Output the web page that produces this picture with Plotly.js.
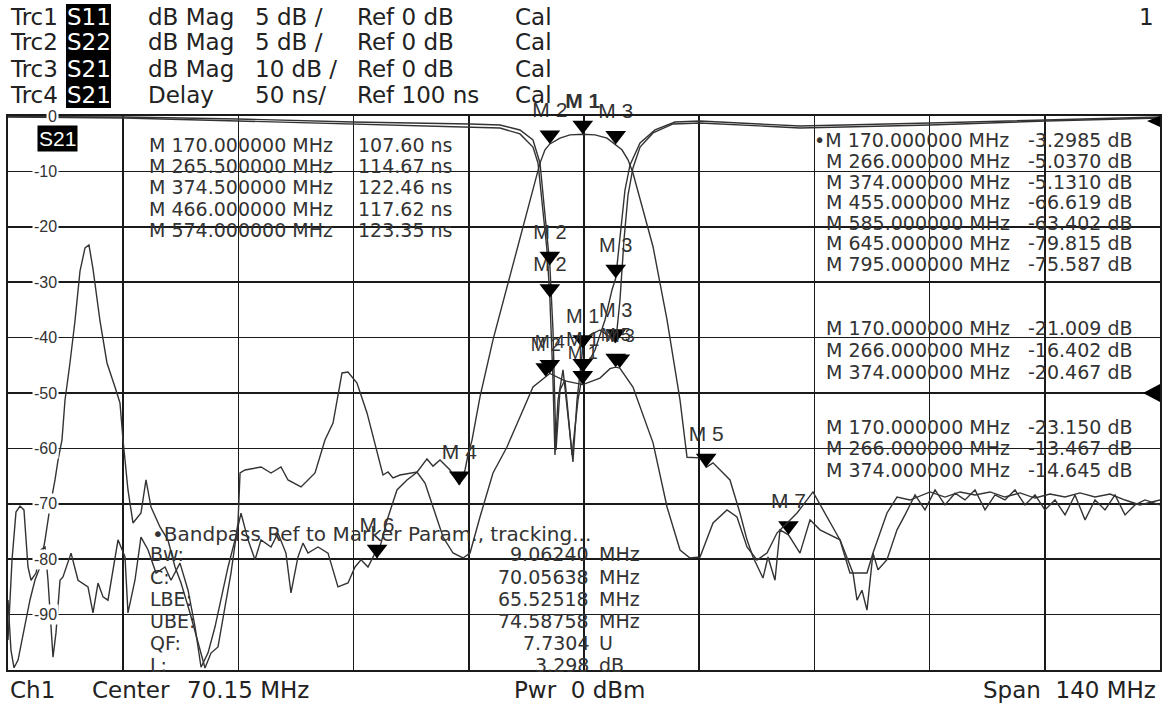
<!DOCTYPE html>
<html>
<head>
<meta charset="utf-8">
<script src="https://cdn.plot.ly/plotly-3.0.1.min.js"></script>
<style>html,body{margin:0;padding:0;background:#fff;}#chart{width:1165px;height:709px;}</style>
</head>
<body>
<div id="chart"></div>
<script>
// ---------------- DATA ----------------
// Trc3: S21 dB Mag (10 dB/div, ref 0 dB)
const freqS21 = [
  0.15,0.64,1.12,1.61,2.09,2.58,2.95,3.55,4.16,4.65,
  5.01,5.62,5.98,6.47,6.83,7.81,8.66,9.87,10.48,11.09,
  11.70,12.30,13.52,14.37,14.73,15.58,16.31,17.16,18.14,19.23,
  19.96,21.05,22.03,22.88,23.61,24.46,25.31,26.04,26.89,27.74,
  28.47,29.32,30.17,30.90,32.11,32.96,33.93,34.54,35.39,36.00,
  36.61,37.82,39.04,40.25,41.47,42.32,43.05,43.90,44.75,45.00,
  46.21,47.42,48.64,49.85,51.07,51.80,52.65,53.87,55.00,55.69,
  56.05,56.54,57.51,59.09,59.94,62.37,64.44,64.80,65.41,66.00,
  67.23,68.45,70.00,71.49,72.95,74.00,74.76,75.50,76.10,78.54,
  80.24,81.82,82.67,84.25,85.00,85.83,87.89,89.11,89.96,90.69,
  91.90,92.51,93.36,93.97,95.00,96.40,97.62,98.83,101.26,102.84,
  103.33,103.93,104.54,105.27,105.88,106.97,108.19,109.16,110.38,111.59,
  112.81,114.02,115.24,116.45,117.67,118.88,120.10,121.31,122.53,123.74,
  124.96,126.17,127.39,128.61,129.82,131.04,132.25,133.47,134.68,135.90,
  137.11,138.33,140.15];
const magS21 = [
  -94.6,-80.1,-71.5,-70.4,-71.1,-81.4,-83.8,-82.5,-78.3,-77.8,
  -83.8,-97.7,-93.3,-83.8,-83.2,-78.9,-83.8,-85.0,-89.7,-84.3,
  -86.8,-87.4,-76.5,-79.6,-89.7,-83.8,-76.0,-78.3,-82.5,-81.4,
  -83.8,-80.7,-85.6,-92.2,-99.5,-96.9,-92.2,-87.4,-81.4,-76.5,
  -71.7,-76.5,-80.1,-76.5,-77.8,-75.3,-78.9,-86.1,-79.6,-77.1,
  -78.9,-77.8,-78.9,-85.0,-84.3,-81.4,-80.1,-81.4,-78.9,-79.8,
  -73.0,-67.5,-65.7,-64.3,-61.9,-63.2,-62.1,-63.9,-66.6,-63.9,
  -61.2,-58.5,-50.7,-40.4,-35.6,-21.8,-10.3,-8.5,-6.1,-5.04,
  -4.0,-3.4,-3.3,-3.4,-4.0,-5.13,-6.1,-7.9,-10.3,-23.6,
  -36.8,-51.3,-61.6,-61.7,-63.4,-62.6,-65.7,-71.7,-76.5,-79.6,
  -83.4,-79.6,-83.8,-74.7,-75.6,-78.9,-72.9,-74.7,-76.5,-82.5,
  -87.4,-85.6,-89.2,-78.9,-81.9,-80.1,-74.7,-72.0,-68.4,-71.1,
  -67.5,-70.2,-68.1,-69.3,-67.5,-71.1,-68.4,-69.3,-67.5,-70.2,
  -68.4,-71.1,-69.3,-72.0,-68.4,-72.9,-69.3,-71.1,-68.4,-72.0,
  -70.2,-69.3,-70.2];

// Trc4: S21 Delay (50 ns/div, ref 100 ns at centre)
const freqDelay = [
  0.15,0.51,0.88,1.37,2.09,2.82,3.43,4.04,4.65,5.25,
  5.86,6.23,6.71,7.08,7.68,8.29,8.90,9.51,9.99,10.48,
  11.33,12.18,13.15,13.76,14.13,14.73,15.34,16.31,16.92,17.53,
  18.62,19.59,20.45,21.18,22.27,23.24,24.09,24.82,25.67,26.52,
  27.25,28.10,28.35,28.95,30.90,32.11,33.33,34.18,35.76,37.46,
  38.19,38.67,39.65,40.74,41.47,42.56,43.78,44.99,45.72,46.33,
  46.94,47.79,49.00,49.85,50.83,51.80,53.02,54.23,55.45,56.30,
  57.51,59.09,60.79,62.37,63.95,65.50,66.00,67.84,70.00,72.09,
  73.31,74.00,74.50,76.10,76.96,78.54,80.24,81.82,83.03,84.25,
  85.83,87.53,88.74,89.96,91.17,92.39,93.60,96.04,97.98,99.68,
  101.26,102.47,104.54,105.27,106.97,108.19,109.77,112.20,114.02,115.85,
  117.67,119.49,121.31,123.14,124.96,126.78,128.61,130.43,132.25,134.08,
  135.90,137.72,140.15];
const delayNs = [
  -86.8,-132,-148,-141,-114,-86.8,-68.8,-57.0,-32.7,-2.9,
  21.5,39.5,57.6,93.7,127.1,165.0,210.0,231.0,233.6,212.0,
  165.0,127.1,105.4,91.0,57.6,12.5,-17.3,-8.3,21.5,-2.9,
  -20.9,-32.7,-57.0,-71.5,-98.6,-125.6,-148.2,-134.7,-129.2,-93.1,
  -62.5,-17.3,27.8,30.5,33.2,27.8,33.2,21.5,15.2,27.8,
  45.8,57.6,72.9,118.1,118.9,109.0,82.0,48.6,26.0,28.7,
  23.3,26.0,27.8,28.7,18.8,-2.9,-30.0,-44.4,-48.9,-44.4,
  -11.9,27.8,51.3,78.3,105.4,114.67,117.62,111.0,107.6,113.5,
  122.0,123.35,122.46,105.4,87.4,55.0,-2.9,-41.7,-48.9,-48.0,
  -17.3,-5.6,-11.9,-39.0,-50.7,-44.4,-26.4,-8.3,10.7,-11.9,
  -32.7,-62.5,-62.5,-44.4,-8.3,6.1,3.4,10.7,6.1,10.7,
  7.9,10.7,6.1,9.8,5.2,8.8,6.1,9.8,6.1,8.8,
  3.4,-1.1,3.4];

// Trc1: S11 dB Mag (5 dB/div, ref 0 dB)
const freqS11 = [0.15,14.25,28.10,42.08,56.30,59.94,62.37,63.95,64.56,65.17,65.65,66.0,66.38,66.62,66.99,67.60,68.21,68.81,69.30,70.0,70.88,72.09,73.31,74.0,74.52,75.01,75.50,76.10,76.96,78.54,80.97,84.25,96.40,112.20,126.30,140.15];
const magS11 = [-0.09,-0.18,-0.45,-0.72,-0.99,-1.08,-1.62,-2.80,-4.24,-8.48,-12.09,-16.402,-23.83,-30.60,-25.63,-22.92,-27.44,-31.23,-25.63,-21.009,-19.77,-19.31,-19.95,-20.467,-16.61,-11.19,-7.13,-4.69,-2.80,-1.53,-0.72,-0.63,-1.08,-0.81,-0.45,-0.18];

// Trc2: S22 dB Mag (5 dB/div, ref 0 dB)
const freqS22 = [0.15,14.25,28.10,42.08,56.30,59.94,62.37,63.95,64.80,65.41,66.0,66.38,66.75,67.23,67.84,68.69,69.42,70.0,71.49,72.70,73.55,74.0,74.52,75.13,75.74,76.96,78.78,81.21,84.25,96.40,112.20,126.30,140.15];
const magS22 = [-0.05,-0.09,-0.27,-0.54,-0.72,-0.81,-1.26,-2.17,-4.24,-8.94,-13.467,-19.31,-30.14,-24.73,-23.83,-30.60,-25.63,-23.15,-21.12,-18.41,-15.70,-14.645,-10.74,-6.68,-4.42,-2.44,-1.26,-0.54,-0.45,-0.90,-0.63,-0.36,-0.09];

// Markers
const mkS21Freq = [70, 66, 74, 55, 85, 45, 95];
const mkS21Val  = [-3.2985, -5.0370, -5.1310, -66.619, -63.402, -79.815, -75.587];
const mkS11Freq = [70, 66, 74];
const mkS11Val  = [-21.009, -16.402, -20.467];
const mkS22Freq = [70, 66, 74];
const mkS22Val  = [-23.150, -13.467, -14.645];
const mkDelFreq = [70, 65.5, 74.5, 66, 74];
const mkDelVal  = [107.60, 114.67, 122.46, 117.62, 123.35];

// Bandpass readout
const bpLabels = ['Bw:', 'C:', 'LBE:', 'UBE:', 'QF:', 'L:'];
const bpValues = ['9.06240', '70.05638', '65.52518', '74.58758', '7.7304', '3.298'];
const bpUnits  = ['MHz', 'MHz', 'MHz', 'MHz', 'U', 'dB'];

// Axis settings
const startMHz = 0.15, stopMHz = 140.15, divMHz = 14;
const yTickVals = [0, -10, -20, -30, -40, -50, -60, -70, -80, -90];

// Header
const hdrTrc   = ['Trc1', 'Trc2', 'Trc3', 'Trc4'];
const hdrParam = ['S11', 'S22', 'S21', 'S21'];
const hdrFmt   = ['dB Mag', 'dB Mag', 'dB Mag', 'Delay'];
const hdrScale = ['5 dB /', '5 dB /', '10 dB /', '50 ns/'];
const hdrRef   = ['Ref 0 dB', 'Ref 0 dB', 'Ref 0 dB', 'Ref 100 ns'];

// ---------------- LAYOUT HELPERS ----------------
const L = 8, R = 1160, T = 116, B = 670, PH = B - T;
const px = x => (x - L) / (R - L);
const py = y => (B - y) / (B - T);
const FH = 'Liberation Sans, Arial, sans-serif';
const FT = 'DejaVu Sans, Verdana, sans-serif';
function txt(x, y, text, o) {
  return Object.assign({xref: 'paper', yref: 'paper', x: px(x), y: py(y), text: text,
    showarrow: false, xanchor: 'left', yanchor: 'middle',
    font: {family: FT, size: 23, color: '#222'}}, o || {});
}
const tf = (size, color) => ({family: FT, size: size, color: color || '#333'});

const lineStyle = {color: '#333', width: 1.4};
const traces = [
  {x: freqS11, y: magS11, yaxis: 'y2', mode: 'lines', line: lineStyle, hoverinfo: 'skip'},
  {x: freqS22, y: magS22, yaxis: 'y2', mode: 'lines', line: lineStyle, hoverinfo: 'skip'},
  {x: freqDelay, y: delayNs, yaxis: 'y3', mode: 'lines', line: lineStyle, hoverinfo: 'skip'},
  {x: freqS21, y: magS21, yaxis: 'y', mode: 'lines', line: lineStyle, hoverinfo: 'skip'}
];
const MR = 9; // triangle radius in px (apex sits on the value)
function mk(freqs, vals, yaxis, span, labels, tsize) {
  return {x: freqs, y: vals.map(v => v + MR * span / PH), yaxis: yaxis,
    mode: 'markers+text', text: labels, textposition: 'top center',
    textfont: {family: FH, size: tsize || 20, color: '#333'},
    marker: {symbol: 'triangle-down', size: 18, color: '#000', line: {width: 0}},
    cliponaxis: false, hoverinfo: 'skip'};
}
const lab = n => Array.from({length: n}, (_, i) => 'M ' + (i + 1));
const s21Labels = lab(mkS21Freq.length); s21Labels[0] = '<b>M 1</b>';
traces.push(mk(mkS11Freq, mkS11Val, 'y2', 50, lab(3)));
traces.push(mk(mkS22Freq, mkS22Val, 'y2', 50, lab(3)));
traces.push(mk(mkDelFreq, mkDelVal, 'y3', 500, lab(5), 18));
traces.push(mk(mkS21Freq, mkS21Val, 'y', 100, s21Labels, 21));

// ---------------- ANNOTATIONS ----------------
const ann = [];
const hdrY = [17, 42, 69, 95];
hdrTrc.forEach((t, i) => {
  ann.push(txt(8, hdrY[i], t));
  ann.push(txt(89, hdrY[i], hdrParam[i], {xanchor: 'center', font: {family: FT, size: 23, color: '#fff'}}));
  ann.push(txt(146, hdrY[i], hdrFmt[i]));
  ann.push(txt(253, hdrY[i], hdrScale[i]));
  ann.push(txt(355, hdrY[i], hdrRef[i]));
  ann.push(txt(513, hdrY[i], 'Cal'));
});
ann.push(txt(1156, 17, '1', {xanchor: 'right'}));

// y tick labels drawn inside the grid, as on the analyser screen
yTickVals.forEach(v => ann.push({xref: 'paper', yref: 'y', x: px(59), y: v, text: String(v),
  showarrow: false, xanchor: 'right', yanchor: 'middle', bgcolor: '#fff', borderpad: 1,
  font: {family: FH, size: 16, color: '#333'}}));

// active trace tag
ann.push(txt(57, 138, 'S21', {xanchor: 'center', bgcolor: '#000', borderpad: 1,
  font: {family: FH, size: 21, color: '#fff'}}));

// Delay marker table (left)
const fmtF = (f, i) => 'M ' + (i + 1) + f.toFixed(6) + ' MHz';
const leftRows = [145, 166, 187, 209, 230];
mkDelFreq.forEach((f, i) => {
  ann.push(txt(147, leftRows[i], fmtF(f, i), {font: tf(19)}));
  ann.push(txt(356, leftRows[i], mkDelVal[i].toPrecision(5) + ' ns', {font: tf(19)}));
});
// S21 marker table (right)
const rightS21Rows = [140, 161, 182, 202, 223, 243, 264];
mkS21Freq.forEach((f, i) => {
  ann.push(txt(i === 0 ? 812 : 824, rightS21Rows[i], (i === 0 ? '•' : '') + fmtF(f, i), {font: tf(19)}));
  ann.push(txt(1026, rightS21Rows[i], mkS21Val[i].toPrecision(5) + ' dB', {font: tf(19)}));
});
const rightS11Rows = [328, 350, 372];
mkS11Freq.forEach((f, i) => {
  ann.push(txt(824, rightS11Rows[i], fmtF(f, i), {font: tf(19)}));
  ann.push(txt(1026, rightS11Rows[i], mkS11Val[i].toPrecision(5) + ' dB', {font: tf(19)}));
});
const rightS22Rows = [427, 448, 470];
mkS22Freq.forEach((f, i) => {
  ann.push(txt(824, rightS22Rows[i], fmtF(f, i), {font: tf(19)}));
  ann.push(txt(1026, rightS22Rows[i], mkS22Val[i].toPrecision(5) + ' dB', {font: tf(19)}));
});

// Bandpass readout (bottom left)
ann.push(txt(150, 534, '•Bandpass Ref to Marker Param., tracking...', {font: tf(20)}));
const bpRows = [554, 577, 599, 621, 643, 665];
bpLabels.forEach((l, i) => {
  ann.push(txt(148, bpRows[i], l, {font: tf(19)}));
  ann.push(txt(591, bpRows[i], bpValues[i], {xanchor: 'right', font: tf(19)}));
  ann.push(txt(597, bpRows[i], bpUnits[i], {font: tf(19)}));
});

// Channel bar
ann.push(txt(8, 690, 'Ch1'));
ann.push(txt(90, 690, 'Center'));
ann.push(txt(185, 690, ((startMHz + stopMHz) / 2).toFixed(2) + ' MHz'));
ann.push(txt(512, 690, 'Pwr  0 dBm'));
ann.push(txt(1158, 690, 'Span  ' + (stopMHz - startMHz).toFixed(0) + ' MHz', {xanchor: 'right'}));

// ---------------- SHAPES ----------------
const shapes = [
  {type: 'rect', xref: 'paper', yref: 'paper', x0: px(66), x1: px(111), y0: py(108), y1: py(4),
   fillcolor: '#000', line: {width: 0}, layer: 'below'},
  {type: 'path', xref: 'paper', yref: 'paper',
   path: `M ${px(1143)} ${py(393)} L ${px(1160)} ${py(384)} L ${px(1160)} ${py(402)} Z`,
   fillcolor: '#000', line: {width: 0}},
  {type: 'path', xref: 'paper', yref: 'paper',
   path: `M ${px(1147)} ${py(121)} L ${px(1160)} ${py(116)} L ${px(1160)} ${py(127)} Z`,
   fillcolor: '#000', line: {width: 0}}
];

const axisBase = {showgrid: true, gridcolor: '#1a1a1a', gridwidth: 1.6, zeroline: false,
  showticklabels: false, ticks: '', showline: true, mirror: true, linecolor: '#1a1a1a', linewidth: 2, fixedrange: true};

const layout = {
  width: 1165, height: 709,
  margin: {l: L, r: 1165 - R, t: T, b: 709 - B, pad: 0},
  paper_bgcolor: '#fff', plot_bgcolor: '#fff',
  showlegend: false,
  xaxis: Object.assign({}, axisBase, {range: [startMHz, stopMHz], tick0: startMHz, dtick: divMHz}),
  yaxis: Object.assign({}, axisBase, {range: [-100, 0], tick0: 0, dtick: 10}),
  yaxis2: {overlaying: 'y', range: [-50, 0], visible: false, fixedrange: true},
  yaxis3: {overlaying: 'y', range: [-150, 350], visible: false, fixedrange: true},
  annotations: ann,
  shapes: shapes
};

Plotly.newPlot('chart', traces, layout, {staticPlot: true, displayModeBar: false});
</script>
</body>
</html>
